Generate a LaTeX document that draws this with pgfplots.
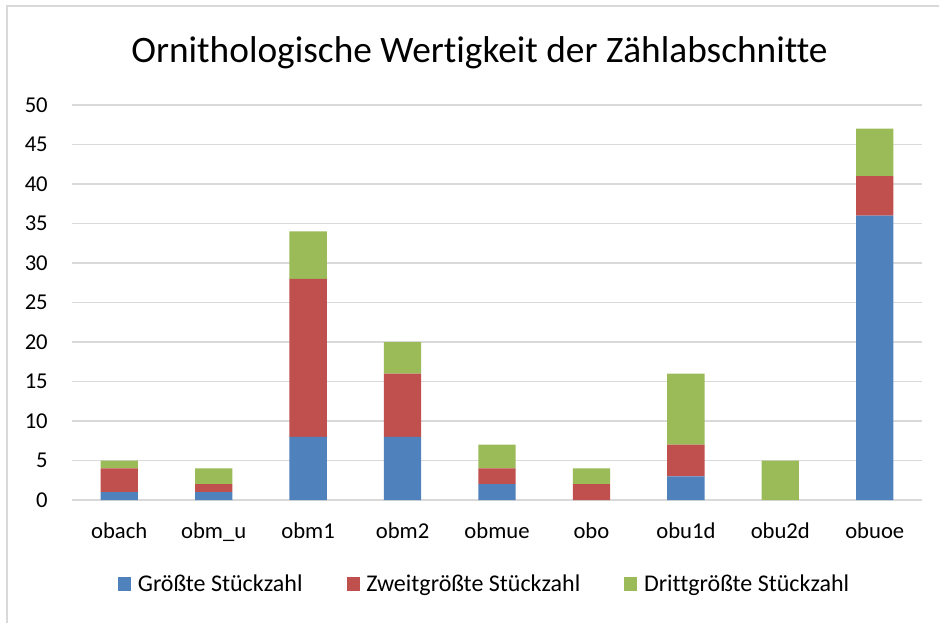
\documentclass[border=0pt]{standalone}
\usepackage{fontspec}
\setmainfont{Carlito}[Ligatures=NoCommon]
\usepackage{pgfplots}
\pgfplotsset{compat=1.18}
\definecolor{cblue}{HTML}{4F81BD}
\definecolor{cred}{HTML}{C0504D}
\definecolor{cgreen}{HTML}{9BBB59}
\definecolor{gridgray}{HTML}{D9D9D9}

\begin{document}
\begin{tikzpicture}
  % 1px of the reference = 0.75pt, origin at the lower left of the plot area
  \useasboundingbox (-54pt,-91.5pt) rectangle (650.25pt,375pt);
  \draw[gridgray, line width=1.1pt] (-48.75pt,-95pt) -- (-48.75pt,370.5pt) -- (655pt,370.5pt);
  \node[anchor=base, font=\fontsize{28}{33}\selectfont] at (305.6pt,327.75pt)
    {Ornithologische Wertigkeit der Zählabschnitte};
  \begin{axis}[
      at={(0,0)}, anchor=south west,
      scale only axis, width=637.5pt, height=296.25pt,
      ybar stacked, bar width=0.395,
      xmin=-0.5, xmax=8.5, ymin=0, ymax=50,
      xtick={0,...,8},
      xticklabels={obach,obm\_u,obm1,obm2,obmue,obo,obu1d,obu2d,obuoe},
      ytick={0,5,...,50},
      axis line style={draw=none}, major tick length=0pt,
      ymajorgrids, grid style={draw=gridgray, line width=0.9pt},
      /pgf/number format/assume math mode=true,
      tick label style={font=\fontsize{17}{20}\selectfont, inner sep=0pt},
      yticklabel style={anchor=east, xshift=-18pt},
      xticklabel style={anchor=base, yshift=-28.5pt},
      legend image code/.code={\fill[#1] (0pt,-4.9pt) rectangle (9.8pt,4.9pt);},
      legend columns=3,
      legend style={draw=none, fill=none, at={(0.4859,-0.2127)}, anchor=center,
        font=\fontsize{18}{21}\selectfont,
        /tikz/every odd column/.append style={column sep=3pt},
        /tikz/every even column/.append style={column sep=31pt}},
    ]
    \addplot[fill=cblue, draw=none] coordinates {(0,1) (1,1) (2,8) (3,8) (4,2) (5,0) (6,3) (7,0) (8,36)};
    \addplot[fill=cred, draw=none] coordinates {(0,3) (1,1) (2,20) (3,8) (4,2) (5,2) (6,4) (7,0) (8,5)};
    \addplot[fill=cgreen, draw=none] coordinates {(0,1) (1,2) (2,6) (3,4) (4,3) (5,2) (6,9) (7,5) (8,6)};
    \legend{Größte Stückzahl, Zweitgrößte Stückzahl, Drittgrößte Stückzahl}
  \end{axis}
\end{tikzpicture}
\end{document}
